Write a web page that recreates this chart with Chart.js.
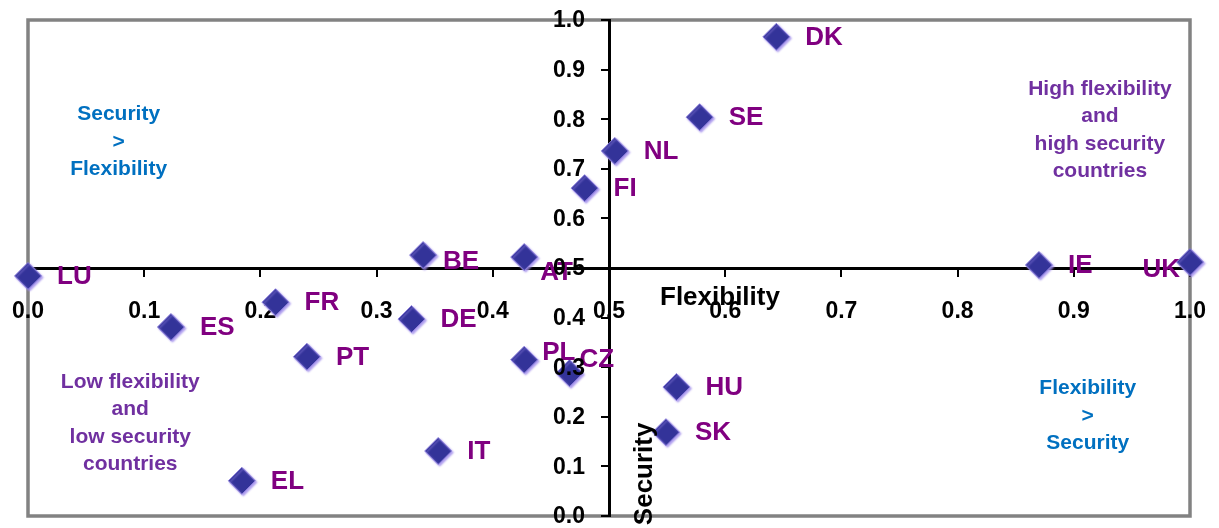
<!DOCTYPE html>
<html><head><meta charset="utf-8">
<script src="https://cdn.jsdelivr.net/npm/chart.js@4.4.0/dist/chart.umd.min.js"></script>
<style>html,body{margin:0;padding:0;background:#fff;overflow:hidden}</style>
</head><body>
<canvas id="c" width="1219" height="528"></canvas>
<script>
// ---- data ----
const countries   = ['DK','SE','NL','FI','BE','AT','LU','FR','ES','PT','EL','DE','PL','CZ','IT','HU','SK','IE','UK'];
const flexibility = [0.644,0.578,0.505,0.479,0.340,0.427,0.000,0.213,0.123,0.240,0.184,0.330,0.427,0.466,0.353,0.558,0.549,0.870,1.000];
const security    = [0.966,0.804,0.736,0.661,0.526,0.522,0.484,0.431,0.381,0.321,0.071,0.397,0.315,0.288,0.131,0.260,0.169,0.506,0.512];
const xTickLabels = ['0.0','0.1','0.2','0.3','0.4','0.5','0.6','0.7','0.8','0.9','1.0'];
const yTickLabels = ['0.0','0.1','0.2','0.3','0.4','0.5','0.6','0.7','0.8','0.9','1.0'];
const xTitle = 'Flexibility';
const yTitle = 'Security';
const noteSecFlex  = ['Security','>','Flexibility'];
const noteHigh     = ['High flexibility','and','high security','countries'];
const noteLow      = ['Low flexibility','and','low security','countries'];
const noteFlexSec  = ['Flexibility','>','Security'];

// ---- presentation ----
const FONT = '"Liberation Sans", Arial, sans-serif';
const notes = [
  {lines: noteSecFlex, color:'#0070C0', vx:0.078, vy:0.754},
  {lines: noteHigh,    color:'#7030A0', vx:0.9225, vy:0.778},
  {lines: noteLow,     color:'#7030A0', vx:0.088, vy:0.1875},
  {lines: noteFlexSec, color:'#0070C0', vx:0.912, vy:0.2016}
];
const labelShift = { AT:[16,16], BE:[20,7], PL:[18,-7], CZ:[10,-13], UK:[-10,8,'right'] };

const points = flexibility.map((f,i)=>({x:f, y:security[i]}));
const tickFont = {family: FONT, size: 23, weight: 'bold'};

const decor = {
  id:'decor',
  beforeDraw(chart){
    const {ctx, chartArea:a} = chart;
    ctx.save();
    ctx.strokeStyle = '#828282';
    ctx.lineWidth = 3.5;
    ctx.strokeRect(a.left, a.top, a.right - a.left, a.bottom - a.top);
    ctx.restore();
  },
  beforeDatasetDraw(chart){
    const ctx = chart.ctx;
    ctx.save();
    ctx.shadowColor = 'rgba(160,140,235,0.9)';
    ctx.shadowOffsetX = 1.5;
    ctx.shadowOffsetY = 1.5;
    ctx.shadowBlur = 2;
  },
  afterDatasetDraw(chart){
    chart.ctx.restore();
  },
  afterDraw(chart){
    const {ctx, scales:{x, y}} = chart;
    const meta = chart.getDatasetMeta(0);
    ctx.save();
    // point labels
    ctx.font = 'bold 26px ' + FONT;
    ctx.fillStyle = '#800080';
    ctx.textBaseline = 'middle';
    meta.data.forEach((el,i)=>{
      const s = labelShift[countries[i]] || [29,1,'left'];
      ctx.textAlign = s[2] || 'left';
      ctx.fillText(countries[i], el.x + s[0], el.y + s[1]);
    });
    // y tick labels, from the y scale's own ticks, to the left of the crossing axis
    ctx.font = 'bold 23px ' + FONT;
    ctx.fillStyle = '#000';
    ctx.textAlign = 'right';
    const axisX = x.getPixelForValue(0.5);
    y.ticks.forEach((t,i)=>{
      ctx.fillText(yTickLabels[i], axisX - 24, y.getPixelForValue(t.value) + 1);
    });
    // quadrant notes
    ctx.font = 'bold 21px ' + FONT;
    ctx.textAlign = 'center';
    notes.forEach(n=>{
      ctx.fillStyle = n.color;
      const cx = x.getPixelForValue(n.vx), cy = y.getPixelForValue(n.vy);
      const lh = 27.5, h0 = cy - (n.lines.length-1)*lh/2;
      n.lines.forEach((t,k)=>ctx.fillText(t, cx, h0 + k*lh));
    });
    // axis titles
    ctx.fillStyle = '#000';
    ctx.font = 'bold 26px ' + FONT;
    ctx.fillText(xTitle, x.getPixelForValue(0.5955), y.getPixelForValue(0.44));
    ctx.translate(x.getPixelForValue(0.531), y.getPixelForValue(0.085));
    ctx.rotate(-Math.PI/2);
    ctx.fillText(yTitle, 0, 0);
    ctx.restore();
  }
};

new Chart(document.getElementById('c'), {
  type: 'scatter',
  data: { datasets: [{
    data: points,
    pointStyle: 'rectRot',
    radius: 13.5,
    hoverRadius: 13.5,
    backgroundColor: '#333399',
    borderColor: '#8f82dd',
    borderWidth: 1,
    clip: false
  }]},
  options: {
    responsive: false,
    animation: false,
    events: [],
    layout: {autoPadding: false, padding: {left: 28, right: 29, top: 20, bottom: 12}},
    plugins: {legend: {display: false}, tooltip: {enabled: false}},
    scales: {
      x: {
        type: 'linear', min: 0, max: 1,
        position: {y: 0.5},
        afterFit: s => { s.height = 0; s.paddingLeft = 0; s.paddingRight = 0; s.paddingTop = 0; s.paddingBottom = 0; },
        ticks: {stepSize: 0.1, autoSkip: false, maxRotation: 0,
                callback: (v, i) => xTickLabels[i], font: tickFont, color: '#000', padding: 23},
        grid: {drawOnChartArea: false, drawTicks: true, tickLength: 7, color: '#000', lineWidth: 2},
        border: {display: true, color: '#000', width: 3}
      },
      y: {
        type: 'linear', min: 0, max: 1,
        position: {x: 0.5},
        afterFit: s => { s.width = 0; s.paddingLeft = 0; s.paddingRight = 0; s.paddingTop = 0; s.paddingBottom = 0; },
        ticks: {stepSize: 0.1, autoSkip: false, display: false,
                callback: (v, i) => yTickLabels[i], font: tickFont, color: '#000'},
        grid: {drawOnChartArea: false, drawTicks: true, tickLength: 7, color: '#000', lineWidth: 2},
        border: {display: true, color: '#000', width: 3}
      }
    }
  },
  plugins: [decor]
});
</script>
</body></html>
